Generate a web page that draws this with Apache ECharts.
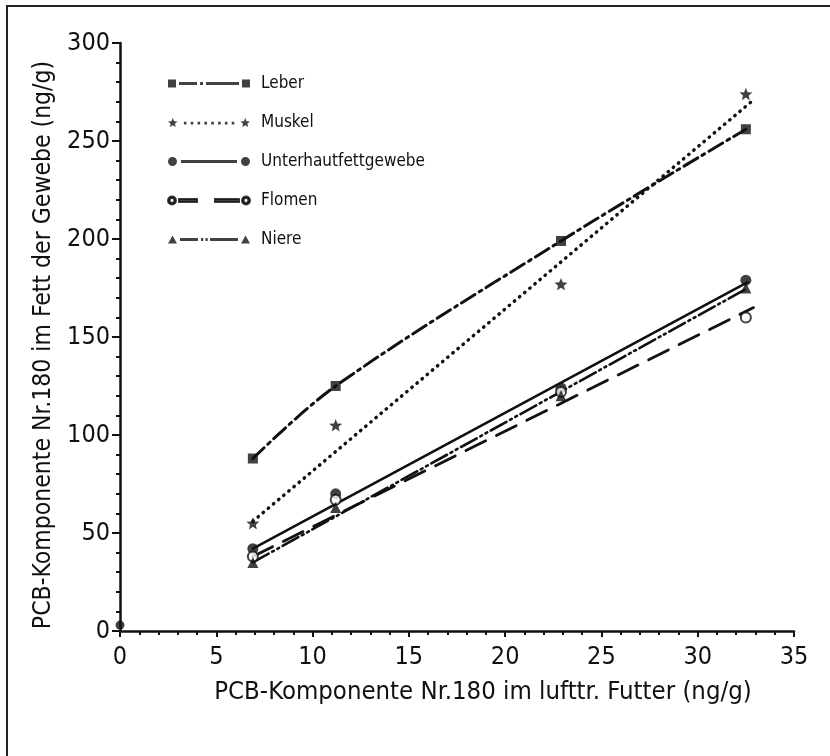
<!DOCTYPE html>
<html>
<head>
<meta charset="utf-8">
<script src="https://cdn.jsdelivr.net/npm/echarts@6/dist/echarts.min.js"></script>
<style>
html, body { margin: 0; padding: 0; background: #fff; }
#pcbChart { width: 830px; height: 756px; }
</style>
</head>
<body>
<div id="pcbChart"></div>
<script>
// Futtergehalt (x) und Gehalt im Fett der Gewebe (y), ng/g
var xFeed = [6.9, 11.2, 22.9, 32.5];
var leber = [88, 125, 199, 256];
var muskel = [55, 105, 177, 274];
var unterhaut = [42, 70, 124, 179];
var flomen = [38, 67, 122, 160];
var niere = [35, 63, 120, 175];
var kontrolle = [[0, 3]];
// Ausgleichsgeraden, Endpunkte
var muskelFit = [[6.9, 56], [32.9, 271]];
var unterhautFit = [[6.9, 42], [32.6, 178]];
var flomenFit = [[6.9, 38], [32.9, 165]];
var niereFit = [[6.9, 35], [32.6, 175]];
var xTicks = [0, 5, 10, 15, 20, 25, 30, 35];
var yTicks = [0, 50, 100, 150, 200, 250, 300];

var ink = '#111';
var font = "'DejaVu Sans Condensed', Roboto, sans-serif";

function pairs(ys) {
	return xFeed.map(function (x, i) { return [x, ys[i]]; });
}

var starPath = 'path://M5,1L6.29,4.22L9.76,4.46L7.09,6.68L7.94,10.05L5,8.2L2.06,10.05L2.91,6.68L0.24,4.46L3.71,4.22Z';

// Legendensymbole: Zeichen - Linie - Zeichen
function star(dx) {
	var p = [[5,1],[6.29,4.22],[9.76,4.46],[7.09,6.68],[7.94,10.05],[5,8.2],[2.06,10.05],[2.91,6.68],[0.24,4.46],[3.71,4.22]];
	return 'M' + p.map(function (q) { return (q[0] + dx) + ',' + q[1]; }).join('L') + 'Z';
}
function dots() {
	var s = '';
	for (var x = 16; x <= 64; x += 6.8) s += 'M' + x + ',4.8h2.6v2.6h-2.6z';
	return s;
}
function ring(dx) {
	return 'M' + dx + ',6a4,4 0 1,1 8,0a4,4 0 1,1 -8,0' +
		'M' + (dx + 1.6) + ',6a2.4,2.4 0 1,0 4.8,0a2.4,2.4 0 1,0 -4.8,0';
}
function disc(dx) {
	return 'M' + dx + ',6a4.5,4.5 0 1,0 9,0a4.5,4.5 0 1,0 -9,0';
}
var icons = {
	Leber: 'path://M0,2h8v8h-8zM11,4.6h18v2.8h-18zM32,4.6h3v2.8h-3zM38,4.6h33v2.8h-33zM74,2h8v8h-8z',
	Muskel: 'path://' + star(0) + dots() + star(72),
	Unterhautfettgewebe: 'path://' + disc(0) + 'M13,4.6h56v2.8h-56z' + disc(73),
	Flomen: 'path://' + ring(0) + 'M11,4.6h18v2.8h-18zM47,4.6h24v2.8h-24z' + ring(74),
	Niere: 'path://M0,10L4.5,2L9,10ZM12,4.6h18v2.8h-18zM33,4.6h2.2v2.8h-2.2zM37.5,4.6h2.2v2.8h-2.2zM42,4.6h28v2.8h-28zM73,10L77.5,2L82,10Z'
};

function pointSeries(name, ys, symbol, size) {
	return {
		name: name,
		type: 'scatter',
		data: pairs(ys),
		symbol: symbol,
		symbolSize: size,
		symbolKeepAspect: true,
		itemStyle: { color: ink, borderColor: ink, borderWidth: symbol === 'emptyCircle' ? 2 : 0 },
		z: 5
	};
}
function fitSeries(name, data, type, width, smooth) {
	return {
		name: name,
		type: 'line',
		data: data,
		smooth: smooth || false,
		showSymbol: false,
		silent: true,
		lineStyle: { color: ink, width: width, type: type, cap: 'round' },
		z: 3
	};
}

var chart = echarts.init(document.getElementById('pcbChart'));
var option = {
	backgroundColor: '#fff',
	animation: false,
	textStyle: { fontFamily: font, color: ink },
	graphic: [{
		type: 'rect',
		shape: { x: 7, y: 6, width: 840, height: 800 },
		style: { fill: 'none', stroke: '#222', lineWidth: 2 },
		silent: true
	}],
	grid: { left: 120, right: 36, top: 43, bottom: 125 },
	legend: {
		orient: 'vertical',
		left: 162,
		top: 68,
		itemWidth: 82,
		itemHeight: 12,
		itemGap: 18,
		selectedMode: false,
		textStyle: { fontFamily: font, fontSize: 17, color: ink, lineHeight: 21, padding: [0, 0, 0, 6] },
		data: ['Leber', 'Muskel', 'Unterhautfettgewebe', 'Flomen', 'Niere'].map(function (n) {
			return { name: n, icon: icons[n] };
		})
	},
	xAxis: {
		type: 'value',
		min: 0,
		max: 35,
		interval: 5,
		name: 'PCB-Komponente Nr.180 im lufttr. Futter (ng/g)',
		nameLocation: 'middle',
		nameGap: 48,
		nameTextStyle: { fontFamily: font, fontSize: 25.5, color: ink, padding: [0, 0, 0, 52] },
		splitLine: { show: false },
		axisLine: { lineStyle: { color: ink, width: 2.5 } },
		axisTick: { length: 6, lineStyle: { color: ink, width: 2 } },
		minorTick: { show: true, splitNumber: 5, length: 4, lineStyle: { color: ink, width: 2 } },
		axisLabel: {
			margin: 14, fontFamily: font, fontSize: 25, color: ink,
			formatter: function (v) { return xTicks.indexOf(v) >= 0 ? String(v) : ''; }
		}
	},
	yAxis: {
		type: 'value',
		min: 0,
		max: 300,
		interval: 50,
		name: 'PCB-Komponente Nr.180 im Fett der Gewebe (ng/g)',
		nameLocation: 'middle',
		nameGap: 63,
		nameTextStyle: { fontFamily: font, fontSize: 24.5, color: ink, padding: [0, 16, 0, 0] },
		splitLine: { show: false },
		axisLine: { show: true, lineStyle: { color: ink, width: 2.5 } },
		axisTick: { show: true, length: 8, lineStyle: { color: ink, width: 2 } },
		minorTick: { show: true, splitNumber: 5, length: 4, lineStyle: { color: ink, width: 2 } },
		axisLabel: {
			margin: 10, fontFamily: font, fontSize: 25, color: ink,
			formatter: function (v) { return yTicks.indexOf(v) >= 0 ? String(v) : ''; }
		}
	},
	series: [
		fitSeries('Leber Kurve', pairs(leber), [16, 5, 3, 5], 3, 0.35),
		fitSeries('Muskel Gerade', muskelFit, [0.5, 6.2], 3.4),
		fitSeries('Unterhautfettgewebe Gerade', unterhautFit, 'solid', 2.6),
		fitSeries('Flomen Gerade', flomenFit, [22, 12], 2.8),
		fitSeries('Niere Gerade', niereFit, [18, 4, 2, 4, 2, 4], 2.6),
		pointSeries('Leber', leber, 'rect', 10),
		pointSeries('Muskel', muskel, starPath, 13),
		pointSeries('Unterhautfettgewebe', unterhaut, 'circle', 11),
		pointSeries('Flomen', flomen, 'emptyCircle', 10),
		pointSeries('Niere', niere, 'triangle', 11),
		{
			name: 'Kontrolle',
			type: 'scatter',
			data: kontrolle,
			symbol: 'circle',
			symbolSize: 9,
			itemStyle: { color: ink },
			z: 5
		}
	]
};
chart.setOption(option);
</script>
</body>
</html>
